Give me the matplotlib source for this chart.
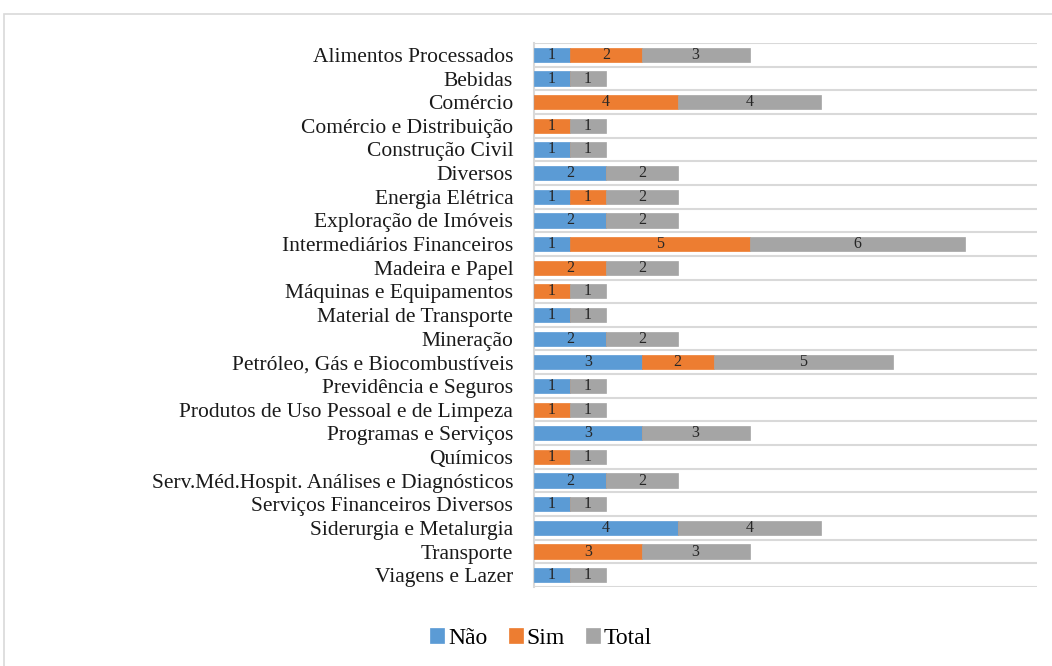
import matplotlib
matplotlib.use("Agg")
import matplotlib.pyplot as plt
from matplotlib.patches import Rectangle
import numpy as np

categories = [
    "Alimentos Processados", "Bebidas", "Comércio", "Comércio e Distribuição",
    "Construção Civil", "Diversos", "Energia Elétrica", "Exploração de Imóveis",
    "Intermediários Financeiros", "Madeira e Papel", "Máquinas e Equipamentos",
    "Material de Transporte", "Mineração", "Petróleo, Gás e Biocombustíveis",
    "Previdência e Seguros", "Produtos de Uso Pessoal e de Limpeza",
    "Programas e Serviços", "Químicos",
    "Serv.Méd.Hospit. Análises e Diagnósticos", "Serviços Financeiros Diversos",
    "Siderurgia e Metalurgia", "Transporte", "Viagens e Lazer",
]
nao = [1, 1, 0, 0, 1, 2, 1, 2, 1, 0, 0, 1, 2, 3, 1, 0, 3, 0, 2, 1, 4, 0, 1]
sim = [2, 0, 4, 1, 0, 0, 1, 0, 5, 2, 1, 0, 0, 2, 0, 1, 0, 1, 0, 0, 0, 3, 0]
total = [3, 1, 4, 1, 1, 2, 2, 2, 6, 2, 1, 1, 2, 5, 1, 1, 3, 1, 2, 1, 4, 3, 1]

series = [("Não", nao, "#5B9BD5"), ("Sim", sim, "#ED7D31"), ("Total", total, "#A5A5A5")]

plt.rcParams["font.family"] = ["Liberation Serif", "DejaVu Serif"]

fig = plt.figure(figsize=(10.52, 6.66), dpi=100)
ax = fig.add_axes([0.5076, 0.1186, 0.4781, 0.8168])

# chart border like the original export
fig.patches.append(Rectangle((4 / 1052, -0.1), 1.2, 1 - 14 / 666 + 0.1,
                             transform=fig.transFigure, fill=False,
                             edgecolor="#D9D9D9", linewidth=1.2))

y = np.arange(len(categories))
left = np.zeros(len(categories))
handles = []
for name, vals, color in series:
    vals = np.array(vals, dtype=float)
    bars = ax.barh(y, vals, left=left, height=0.6, color=color, label=name,
                   edgecolor=color, linewidth=0.5, zorder=3)
    handles.append(bars)
    for yi, l, v in zip(y, left, vals):
        if v > 0:
            ax.text(l + v / 2, yi, f"{int(v)}", ha="center", va="center",
                    fontsize=11.5, color="#262626", zorder=4)
    left = left + vals

ax.set_xlim(0, 14)
ax.set_ylim(len(categories) - 0.5, -0.5)
ax.set_yticks(y)
ax.set_yticklabels(categories, fontsize=15.5, color="#1a1a1a")
ax.set_xticks([])
ax.set_yticks(np.arange(len(categories) + 1) - 0.5, minor=True)
ax.grid(which="minor", axis="y", color="#D9D9D9", linewidth=1.5, zorder=0)
ax.tick_params(axis="y", which="both", length=0, pad=15)
for s in ["top", "right", "bottom"]:
    ax.spines[s].set_visible(False)
ax.spines["left"].set_color("#D9D9D9")
ax.spines["left"].set_linewidth(1.5)

fig.legend(handles=handles, labels=[s[0] for s in series], loc="center",
           bbox_to_anchor=(541 / 1052, 1 - 638 / 666), ncol=3, frameon=False,
           fontsize=17, handlelength=0.6, handleheight=0.6, handletextpad=0.15,
           columnspacing=0.9)

fig.savefig("out.png", dpi=100, facecolor="white")
